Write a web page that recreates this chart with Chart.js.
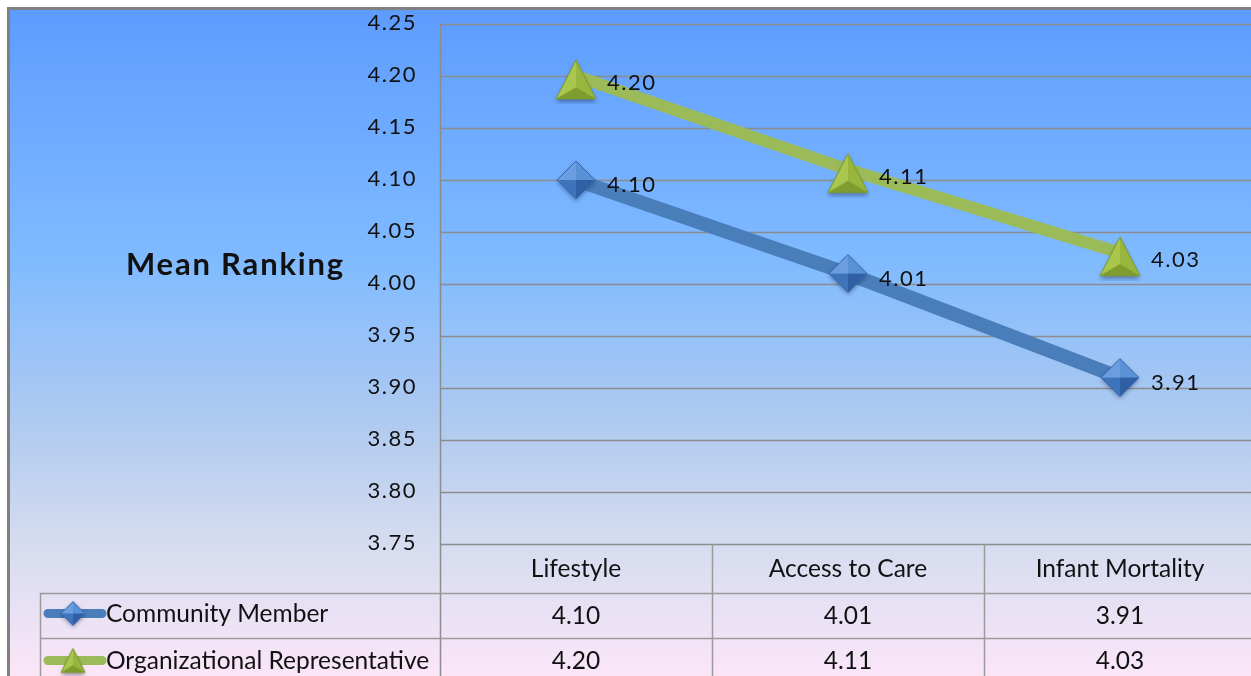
<!DOCTYPE html>
<html>
<head>
<meta charset="utf-8">
<script src="https://cdn.jsdelivr.net/npm/chart.js@4"></script>
<style>
  html, body { margin: 0; padding: 0; background: #fff; overflow: hidden; }
  #wrap { position: relative; width: 1275px; height: 676px; }
</style>
</head>
<body>
<div id="wrap"><canvas id="chart" width="1275" height="676"></canvas></div>
<script>
// data
const categories = ['Lifestyle', 'Access to Care', 'Infant Mortality'];
const communityMember = [4.10, 4.01, 3.91];
const orgRepresentative = [4.20, 4.11, 4.03];
const yTicks = [3.75, 3.80, 3.85, 3.90, 3.95, 4.00, 4.05, 4.10, 4.15, 4.20, 4.25];
const seriesNames = ['Community Member', 'Organizational Representative'];

const FONT = 'Lato, "Open Sans", sans-serif';

// bevelled marker images, like the office 3d markers
function diamondImg(r) {
  const c = document.createElement('canvas');
  const s = r * 2 + 10;
  c.width = s; c.height = s;
  const g = c.getContext('2d');
  const cx = s / 2, cy = s / 2;
  g.shadowColor = 'rgba(0,0,40,0.35)';
  g.shadowBlur = 4; g.shadowOffsetY = 2;
  g.beginPath();
  g.moveTo(cx, cy - r); g.lineTo(cx + r, cy); g.lineTo(cx, cy + r); g.lineTo(cx - r, cy); g.closePath();
  g.fillStyle = '#4a80c6'; g.fill();
  g.shadowColor = 'transparent';
  const facets = [
    [[cx, cy - r], [cx - r, cy], '#6a9ee0'],
    [[cx, cy - r], [cx + r, cy], '#5a90d6'],
    [[cx - r, cy], [cx, cy + r], '#3f73ba'],
    [[cx + r, cy], [cx, cy + r], '#2f60a6']
  ];
  facets.forEach(f => {
    g.beginPath(); g.moveTo(f[0][0], f[0][1]); g.lineTo(f[1][0], f[1][1]); g.lineTo(cx, cy); g.closePath();
    g.fillStyle = f[2]; g.fill();
  });
  g.beginPath();
  g.moveTo(cx, cy - r); g.lineTo(cx + r, cy); g.lineTo(cx, cy + r); g.lineTo(cx - r, cy); g.closePath();
  g.strokeStyle = '#3a6aa8'; g.lineWidth = 1; g.stroke();
  return c;
}

// apex sits a bit above the value, base below it
function triangleImg(up, down, half) {
  const c = document.createElement('canvas');
  const s = Math.max(up, down) * 2 + 10;
  c.width = s; c.height = s;
  const g = c.getContext('2d');
  const cx = s / 2, cy = s / 2;
  const top = [cx, cy - up], bl = [cx - half, cy + down], br = [cx + half, cy + down];
  const mid = [cx, cy + down - (up + down) * 0.3];
  g.shadowColor = 'rgba(0,0,40,0.35)';
  g.shadowBlur = 4; g.shadowOffsetY = 3;
  g.beginPath(); g.moveTo(...top); g.lineTo(...br); g.lineTo(...bl); g.closePath();
  g.fillStyle = '#9aba45'; g.fill();
  g.shadowColor = 'transparent';
  [[top, bl, '#a9c64e'], [top, br, '#98b63e'], [bl, br, '#7f9c2e']].forEach(f => {
    g.beginPath(); g.moveTo(...f[0]); g.lineTo(...f[1]); g.lineTo(...mid); g.closePath();
    g.fillStyle = f[2]; g.fill();
  });
  g.beginPath(); g.moveTo(...top); g.lineTo(...br); g.lineTo(...bl); g.closePath();
  g.strokeStyle = '#7b9a2c'; g.lineWidth = 1; g.stroke();
  return c;
}

const blueMark = diamondImg(19);
const greenMark = triangleImg(16, 23, 20);
const blueMarkSmall = diamondImg(12);
const greenMarkSmall = triangleImg(12, 12, 12);

const backdrop = {
  id: 'backdrop',
  beforeDraw(chart) {
    const ctx = chart.ctx;
    const grad = ctx.createLinearGradient(0, 8, 0, 676);
    grad.addColorStop(0, '#5d9cff');
    grad.addColorStop(0.38, '#80bbff');
    grad.addColorStop(0.62, '#afcaf0');
    grad.addColorStop(0.8, '#d5dcef');
    grad.addColorStop(1, '#fbe6f8');
    ctx.save();
    ctx.fillStyle = grad;
    ctx.fillRect(8, 8, chart.width, chart.height);
    ctx.strokeStyle = '#808080';
    ctx.lineWidth = 3;
    ctx.beginPath();
    ctx.moveTo(8.5, chart.height + 5); ctx.lineTo(8.5, 8.5); ctx.lineTo(chart.width + 5, 8.5);
    ctx.stroke();

    const y = chart.scales.y, x = chart.scales.x;
    const area = chart.chartArea;
    // horizontal gridlines
    ctx.strokeStyle = '#8c8c8c';
    ctx.lineWidth = 1.5;
    yTicks.forEach(v => {
      const py = Math.round(y.getPixelForValue(v)) + 0.5;
      ctx.beginPath(); ctx.moveTo(area.left, py); ctx.lineTo(area.right, py); ctx.stroke();
    });
    // axis line
    ctx.beginPath(); ctx.moveTo(area.left + 0.5, area.top); ctx.lineTo(area.left + 0.5, chart.height); ctx.stroke();

    // y tick labels
    ctx.fillStyle = '#111';
    ctx.font = '22px ' + FONT;
    ctx.letterSpacing = '1.5px';
    ctx.textAlign = 'right';
    ctx.textBaseline = 'middle';
    yTicks.forEach(v => {
      ctx.fillText(v.toFixed(2), area.left - 23, y.getPixelForValue(v) - 1);
    });

    // axis title
    ctx.font = 'bold 31px ' + FONT;
    ctx.letterSpacing = '1.8px';
    ctx.textAlign = 'left';
    ctx.fillText('Mean Ranking', 126, 265);
    ctx.letterSpacing = '0px';

    // data table
    const step = x.getPixelForValue(1) - x.getPixelForValue(0);
    const rowTop = area.bottom;
    const rowH = [49, 45, 45];
    const r1 = rowTop + rowH[0], r2 = r1 + rowH[1], r3 = r2 + rowH[2];
    ctx.strokeStyle = '#9a9a9a';
    ctx.lineWidth = 1.5;
    categories.forEach((c, i) => {
      const bx = Math.round(x.getPixelForValue(i) + step / 2) + 0.5;
      ctx.beginPath(); ctx.moveTo(bx, rowTop); ctx.lineTo(bx, chart.height); ctx.stroke();
    });
    [r1, r2].forEach(ry => {
      ctx.beginPath(); ctx.moveTo(40, Math.round(ry) + 0.5); ctx.lineTo(chart.width, Math.round(ry) + 0.5); ctx.stroke();
    });
    ctx.beginPath(); ctx.moveTo(40.5, r1); ctx.lineTo(40.5, chart.height); ctx.stroke();

    ctx.fillStyle = '#111';
    ctx.font = '24.5px ' + FONT;
    ctx.textAlign = 'center';
    categories.forEach((c, i) => {
      const cx = x.getPixelForValue(i);
      ctx.fillText(c, cx, (rowTop + r1) / 2 + 1);
      ctx.fillText(communityMember[i].toFixed(2), cx, (r1 + r2) / 2 + 1);
      ctx.fillText(orgRepresentative[i].toFixed(2), cx, (r2 + r3) / 2 + 1);
    });

    // legend keys in table
    const keys = [
      [seriesNames[0], '#4a7ebb', blueMarkSmall, (r1 + r2) / 2 - 2],
      [seriesNames[1], '#9bbb59', greenMarkSmall, (r2 + r3) / 2]
    ];
    keys.forEach(k => {
      ctx.strokeStyle = k[1];
      ctx.lineWidth = 9;
      ctx.lineCap = 'round';
      ctx.beginPath(); ctx.moveTo(48, k[3]); ctx.lineTo(102, k[3]); ctx.stroke();
      ctx.drawImage(k[2], 73 - k[2].width / 2, k[3] - k[2].height / 2);
      ctx.textAlign = 'left';
      ctx.fillText(k[0], 106, k[3] + 1);
    });
    ctx.restore();
  }
};

const valueLabels = {
  id: 'valueLabels',
  afterDatasetsDraw(chart) {
    const ctx = chart.ctx;
    ctx.save();
    ctx.fillStyle = '#111';
    ctx.font = '22px ' + FONT;
    ctx.letterSpacing = '1.5px';
    ctx.textAlign = 'left';
    ctx.textBaseline = 'middle';
    chart.data.datasets.forEach((ds, di) => {
      chart.getDatasetMeta(di).data.forEach((pt, i) => {
        ctx.fillText(ds.data[i].toFixed(2), pt.x + 31, pt.y + (di === 1 ? 7 : 5));
      });
    });
    ctx.restore();
  }
};

new Chart(document.getElementById('chart'), {
  type: 'line',
  data: {
    labels: categories,
    datasets: [
      {
        label: seriesNames[0],
        data: communityMember,
        borderColor: '#4a7ebb',
        borderWidth: 14,
        pointStyle: blueMark,
        pointRadius: 4,
        pointHoverRadius: 4
      },
      {
        label: seriesNames[1],
        data: orgRepresentative,
        borderColor: '#9bbb59',
        borderWidth: 12,
        pointStyle: greenMark,
        pointRadius: 4,
        pointHoverRadius: 4
      }
    ]
  },
  options: {
    responsive: false,
    animation: false,
    devicePixelRatio: 1,
    layout: { padding: { left: 440, top: 24, right: 19, bottom: 132 } },
    plugins: { legend: { display: false }, tooltip: { enabled: false } },
    scales: {
      x: { display: false, offset: true },
      y: { display: false, min: 3.75, max: 4.25 }
    }
  },
  plugins: [backdrop, valueLabels]
});
</script>
</body>
</html>
